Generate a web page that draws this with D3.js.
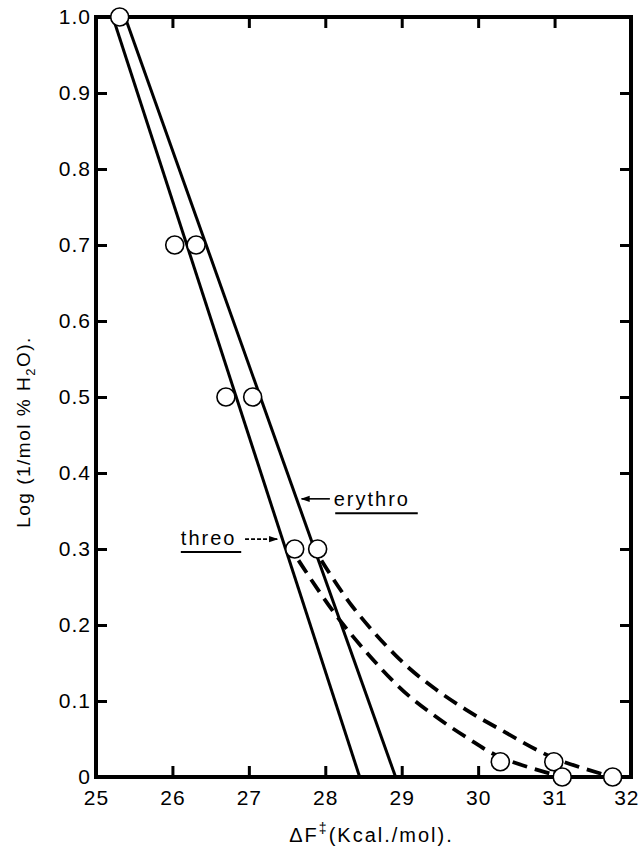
<html>
<head>
<script src="https://cdnjs.cloudflare.com/ajax/libs/d3/7.8.5/d3.min.js"></script>
<style>
body { margin: 0; background: white; }
text { font-family: "Liberation Sans", Arial, sans-serif; fill: black; }
</style>
</head>
<body></body>
<script>
// measured points (dF in kcal/mol, log 1/mol% H2O)
var pointX = [25.31, 26.03, 26.31, 26.70, 27.05, 27.60, 27.90, 30.29, 30.99, 31.10, 31.76];
var pointY = [1.0, 0.7, 0.7, 0.5, 0.5, 0.3, 0.3, 0.02, 0.02, 0, 0];

// straight fits
var threoFitX = [25.22, 28.45];
var threoFitY = [1.0, 0];
var erythroFitX = [25.38, 28.92];
var erythroFitY = [1.0, 0];

// dashed curves
var threoCurveX = [27.65, 28.2, 28.97, 29.41, 29.85, 30.29, 31.10];
var threoCurveY = [0.285, 0.205, 0.118, 0.082, 0.052, 0.026, 0];
var erythroCurveX = [27.95, 28.35, 28.97, 29.41, 29.85, 30.28, 30.99, 31.76];
var erythroCurveY = [0.285, 0.225, 0.155, 0.118, 0.088, 0.063, 0.025, 0];

var xTicks = [25, 26, 27, 28, 29, 30, 31, 32];
var yTicks = [0, 0.1, 0.2, 0.3, 0.4, 0.5, 0.6, 0.7, 0.8, 0.9, 1.0];
var yTickLabels = ["0", "0.1", "0.2", "0.3", "0.4", "0.5", "0.6", "0.7", "0.8", "0.9", "1.0"];

var screen = {width: 641, height: 849};
var plot = {left: 96, right: 631, top: 17, bottom: 777};

var svg = d3.select("body")
  .append("svg")
  .attr("width", screen.width)
  .attr("height", screen.height)
  .style("background-color", "white");

var x = d3.scaleLinear().domain([25, 32]).range([plot.left, plot.right]);
var y = d3.scaleLinear().domain([0, 1.0]).range([plot.bottom, plot.top]);

function zip(xs, ys) {
  return xs.map(function (v, i) { return {x: v, y: ys[i]}; });
}

// axes, ticks point inward
function styleAxis(g) {
  g.select(".domain").remove();
  g.selectAll(".tick line").attr("stroke", "black").attr("stroke-width", 3);
  g.selectAll(".tick text").style("font-size", "21px").style("letter-spacing", "1px")
    .attr("font-family", null);
}
var inner = xTicks.slice(1, -1);
svg.append("g").attr("transform", "translate(0," + plot.bottom + ")")
  .call(d3.axisBottom(x).tickValues(xTicks).tickSize(-11).tickPadding(13).tickFormat(d3.format("d")))
  .call(styleAxis)
  .call(function (g) {
    g.selectAll(".tick line").filter(function (d) { return d === 25 || d === 32; }).remove();
    g.selectAll(".tick text").filter(function (d) { return d === 32; })
      .attr("text-anchor", "end").attr("x", 8);
  });
svg.append("g").attr("transform", "translate(0," + plot.top + ")")
  .call(d3.axisTop(x).tickValues(inner).tickSize(-11).tickFormat(""))
  .call(styleAxis);
svg.append("g").attr("transform", "translate(" + plot.left + ",0)")
  .call(d3.axisLeft(y).tickValues(yTicks).tickSize(-11).tickPadding(5)
    .tickFormat(function (d, i) { return yTickLabels[i]; }))
  .call(styleAxis)
  .call(function (g) { g.selectAll(".tick line").filter(function (d) { return d === 0 || d === 1; }).remove(); });
svg.append("g").attr("transform", "translate(" + plot.right + ",0)")
  .call(d3.axisRight(y).tickValues(yTicks.slice(1, -1)).tickSize(-11).tickFormat(""))
  .call(styleAxis);

svg.append("rect")
  .attr("x", plot.left).attr("y", plot.top)
  .attr("width", plot.right - plot.left).attr("height", plot.bottom - plot.top)
  .attr("fill", "none").attr("stroke", "black").attr("stroke-width", 4);

// lines
var line = d3.line().x(function (d) { return x(d.x); }).y(function (d) { return y(d.y); });
var curve = d3.line().curve(d3.curveCatmullRom.alpha(0.5)).x(function (d) { return x(d.x); }).y(function (d) { return y(d.y); });

[zip(threoFitX, threoFitY), zip(erythroFitX, erythroFitY)].forEach(function (pts) {
  svg.append("path").attr("d", line(pts))
    .attr("fill", "none").attr("stroke", "black").attr("stroke-width", 3);
});
[zip(threoCurveX, threoCurveY), zip(erythroCurveX, erythroCurveY)].forEach(function (pts) {
  svg.append("path").attr("d", curve(pts))
    .attr("fill", "none").attr("stroke", "black").attr("stroke-width", 3.8)
    .attr("stroke-dasharray", "15,8");
});

svg.selectAll("circle.pt").data(zip(pointX, pointY)).enter().append("circle")
  .attr("class", "pt")
  .attr("cx", function (d) { return x(d.x); })
  .attr("cy", function (d) { return y(d.y); })
  .attr("r", 9)
  .attr("fill", "white").attr("stroke", "black").attr("stroke-width", 1.6);

// labels with arrows
svg.append("defs").append("marker")
  .attr("id", "head").attr("viewBox", "0 0 10 10").attr("refX", 9).attr("refY", 5)
  .attr("markerWidth", 9).attr("markerHeight", 9).attr("markerUnits", "userSpaceOnUse")
  .attr("orient", "auto")
  .append("path").attr("d", "M0,1.5 L10,5 L0,8.5 Z").attr("fill", "black");

svg.append("line")
  .attr("x1", x(28.06)).attr("y1", y(0.366)).attr("x2", x(27.69)).attr("y2", y(0.366))
  .attr("stroke", "black").attr("stroke-width", 1.6).attr("marker-end", "url(#head)");
svg.append("text").attr("x", x(28.11)).attr("y", y(0.357))
  .style("font-size", "20px").style("letter-spacing", "2px").text("erythro");
svg.append("line")
  .attr("x1", x(28.13)).attr("x2", x(29.21)).attr("y1", y(0.347)).attr("y2", y(0.347))
  .attr("stroke", "black").attr("stroke-width", 2);

svg.append("line")
  .attr("x1", x(26.95)).attr("y1", y(0.313)).attr("x2", x(27.37)).attr("y2", y(0.313))
  .attr("stroke", "black").attr("stroke-width", 1.6).attr("stroke-dasharray", "4,2")
  .attr("marker-end", "url(#head)");
svg.append("text").attr("x", x(26.11)).attr("y", y(0.305))
  .style("font-size", "20px").style("letter-spacing", "2px").text("threo");
svg.append("line")
  .attr("x1", x(26.11)).attr("x2", x(26.90)).attr("y1", y(0.296)).attr("y2", y(0.296))
  .attr("stroke", "black").attr("stroke-width", 2);

// axis titles
var xt = svg.append("text")
  .attr("x", (plot.left + plot.right) / 2 + 8).attr("y", 842)
  .attr("text-anchor", "middle")
  .style("font-size", "20px").style("letter-spacing", "2px");
xt.append("tspan").text("ΔF");
xt.append("tspan").attr("dy", -9).style("font-size", "14px").text("‡");
xt.append("tspan").attr("dy", 9).text("(Kcal./mol).");

var yt = svg.append("text")
  .attr("transform", "translate(30," + 432 + ") rotate(-90)")
  .attr("text-anchor", "middle")
  .style("font-size", "19px").style("letter-spacing", "1.5px");
yt.append("tspan").text("Log (1/mol % H");
yt.append("tspan").attr("dy", 5).style("font-size", "13px").text("2");
yt.append("tspan").attr("dy", -5).text("O).");
</script>
</html>
